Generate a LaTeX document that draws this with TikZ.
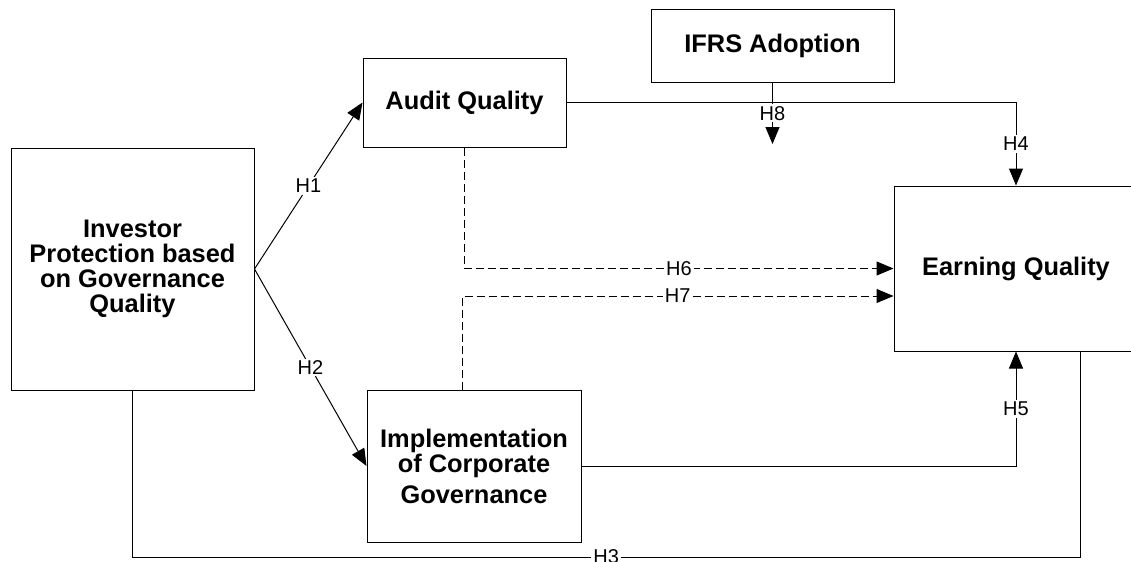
\documentclass[tikz,border=0pt]{standalone}
\usepackage{fontspec}
\setmainfont{Liberation Sans}
\usetikzlibrary{arrows.meta}

\begin{document}
\begin{tikzpicture}[
	x=0.5pt, y=-0.5pt, line width=0.5pt,
	bx/.style={draw, align=center, inner sep=0pt, font=\bfseries\fontsize{12.7}{12.5}\selectfont},
	lbl/.style={fill=white, inner sep=1pt, font=\fontsize{10}{12}\selectfont},
	tip/.style={-{Triangle[length=8.5pt, width=7pt]}},
	dsh/.style={dash pattern=on 4pt off 2pt}
]
	\useasboundingbox (0,0) rectangle (1131,562);

	\node[bx, minimum width=121.5pt, minimum height=121pt] (inv) at (132.5,269) {Investor\\Protection based\\on Governance\\Quality};
	\node[bx, minimum width=101.5pt, minimum height=44.5pt] (aq) at (464.5,102.5) {Audit Quality};
	\node[bx, minimum width=121.5pt, minimum height=36.5pt] (ifrs) at (772.5,45.5) {IFRS Adoption};
	\node[bx, minimum width=122pt, minimum height=82.5pt] (eq) at (1016,268.5) {Earning Quality};
	\node[bx, minimum width=107pt, minimum height=76pt] (icg) at (474,466) {Implementation\\of Corporate\\[3pt]Governance};

	\coordinate (h3) at (1080,557);
	\coordinate (h8) at (772.5,144);

	\draw[tip] (inv.east) -- node[lbl] {H1} (aq.west);
	\draw[tip] (inv.east) -- node[lbl] {H2} (icg.west);
	\draw (inv.south) |- node[lbl, pos=0.75] {H3} (h3) -- (h3 |- eq.south);
	\draw[tip] (aq.east) -| node[lbl, pos=0.75] {H4} (eq.north);
	\draw[tip] (icg.east) -| node[lbl, pos=0.75] {H5} (eq.south);
	\draw[tip, dsh] (aq.south) |- node[lbl, pos=0.75] {H6} (eq.west);
	\draw[tip, dsh] ([xshift=-6pt]icg.north) |- node[lbl, pos=0.75] {H7} ([yshift=-13.75pt]eq.west);
	\draw[tip] (ifrs.south) -- node[lbl] {H8} (h8);
\end{tikzpicture}
\end{document}
